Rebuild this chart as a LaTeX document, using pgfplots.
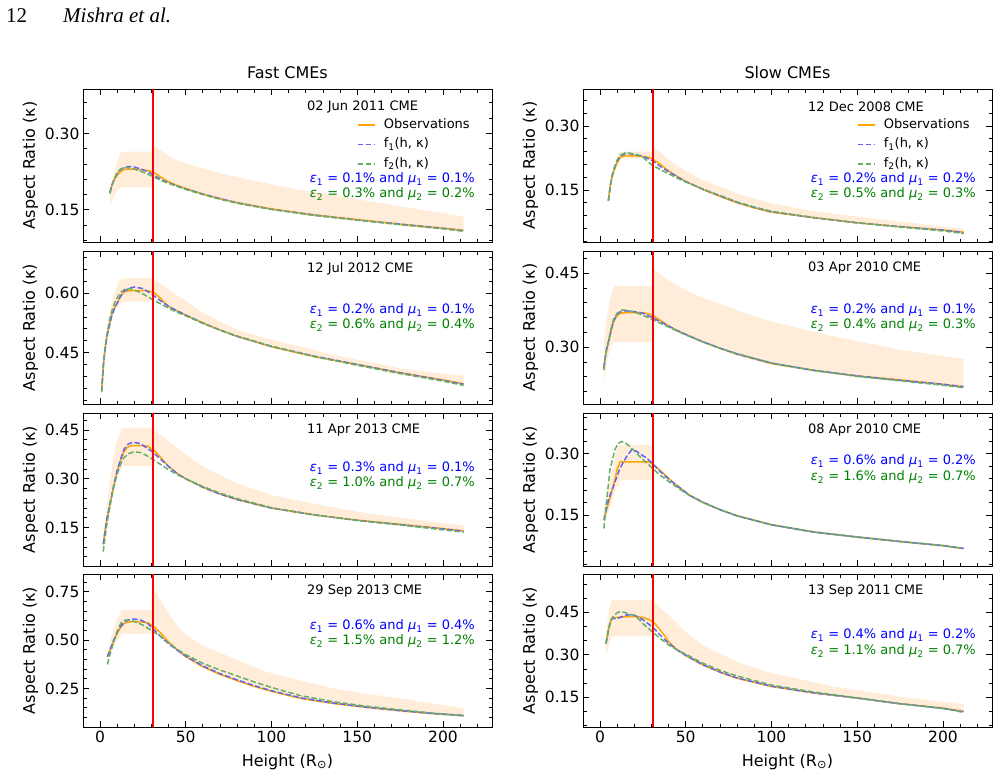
\documentclass[border=0pt]{standalone}
\usepackage{fontspec}
\setmainfont{DejaVu Sans}
\newfontfamily\tnr{Liberation Serif}
\usepackage{pgfplots}
\pgfplotsset{compat=1.18}
\definecolor{obscol}{RGB}{255,165,0}
\definecolor{fonecol}{RGB}{100,100,245}
\definecolor{ftwocol}{RGB}{102,176,102}
\definecolor{bandcol}{RGB}{255,237,217}
\definecolor{txtgreen}{RGB}{0,128,0}
\definecolor{pureRed}{RGB}{255,0,0}
\pgfplotsset{
 cme/.style={
  scale only axis, width=409pt, height=153pt, anchor=north west,
  xmin=-9.9, xmax=228.6,
  xtick={0,50,100,150,200},
  minor xtick={-10,10,20,30,40,60,70,80,90,110,120,130,140,160,170,180,190,210,220},
  tick align=inside,
  major tick length=6pt, minor tick length=3.5pt,
  every tick/.style={black, line width=0.8pt},
  axis line style={line width=0.9pt},
  tick label style={font=\fontsize{15.5}{16}\selectfont},
  y tick label style={/pgf/number format/fixed, /pgf/number format/fixed zerofill, /pgf/number format/precision=2},
  /pgf/number format/assume math mode=true,
  ylabel={Aspect Ratio (κ)},
  every axis y label/.style={at={(axis description cs:-0.1174,0.5)}, anchor=base, rotate=90, font=\fontsize{16}{18}\selectfont},
  every axis x label/.style={at={(axis description cs:0.5,-0.255)}, anchor=base, font=\fontsize{16}{18}\selectfont},
 },
 toprow/.style={xticklabels={}},
 obs/.style={obscol, line width=1.5pt},
 fone/.style={fonecol, line width=1.5pt, dash pattern=on 5.5pt off 2.4pt},
 ftwo/.style={ftwocol, line width=1.5pt, dash pattern=on 5.5pt off 2.4pt},
 band/.style={fill=bandcol, draw=none, forget plot},
 redline/.style={pureRed, line width=1.8pt, forget plot},
 leg/.style={legend style={at={(axis description cs:0.67,0.807)}, anchor=north west, draw=none, fill=none,
   font=\fontsize{13}{13}\selectfont, inner sep=0pt, row sep=7pt,
   nodes={inner sep=0pt, text height=9.5pt, text depth=3pt},
   /tikz/every odd column/.style={column sep=8pt}}, legend cell align=left},
}
\newcommand{\epsline}[3]{\textit{ε}\textsubscript{#1} = #2\% and \textit{μ}\textsubscript{#1} = #3\%}
\begin{document}
\begin{tikzpicture}
\useasboundingbox (0pt,0pt) rectangle (1003pt,-776pt);
\node[anchor=base west, inner sep=0pt] at (6pt,-23pt) {\tnr\fontsize{21}{21}\selectfont 12};
\node[anchor=base west, inner sep=0pt] at (63pt,-23pt) {\tnr\itshape\fontsize{21}{21}\selectfont Mishra et al.};
\node[anchor=base, inner sep=0pt] at (287.5pt,-78pt) {\fontsize{16}{18}\selectfont Fast CMEs};
\node[anchor=base, inner sep=0pt] at (787.5pt,-78pt) {\fontsize{16}{18}\selectfont Slow CMEs};

% ---------- Panel A: 02 Jun 2011 ----------
\begin{axis}[cme, toprow, leg, at={(83pt,-89pt)}, ymin=0.087, ymax=0.387, ytick={0.15,0.30},
  minor ytick={0.09,0.12,0.18,0.21,0.24,0.27,0.33,0.36}]
\addplot[band] coordinates {(5.8,0.190)(8,0.222)(10,0.245)(12,0.262)(13,0.264)(30,0.264)(30.5,0.276)(35,0.268)(39,0.258)(45,0.247)(50,0.241)(58,0.233)(70,0.222)(80,0.214)(97,0.202)(115,0.190)(136,0.179)(155,0.168)(175,0.157)(195,0.146)(212,0.137)
 (212,0.107)(200,0.111)(175,0.119)(150,0.128)(125,0.137)(100,0.149)(80,0.161)(60,0.178)(50,0.189)(40,0.202)(35,0.212)(30.5,0.222)(30,0.194)(12,0.194)(10,0.188)(8,0.176)(5.8,0.160)} -- cycle;
\addplot[obs] coordinates {(5.8,0.186)(7,0.199)(8,0.207)(10,0.218)(12,0.225)(14,0.229)(16,0.230)(20,0.230)(25,0.228)(28,0.227)(30,0.225)(32,0.222)(34,0.218)(36,0.213)(38,0.209)(40,0.205)(45,0.198)(50,0.192)(60,0.181)(70,0.172)(80,0.164)(100,0.152)(125,0.140)(150,0.131)(175,0.122)(200,0.114)(212,0.110)};
\addlegendentry{Observations}
\addplot[fone] coordinates {(5.8,0.184)(7,0.198)(8,0.207)(10,0.221)(12,0.229)(14,0.233)(17,0.235)(20,0.234)(25,0.229)(30,0.221)(33,0.215)(36,0.209)(40,0.203)(45,0.197)(50,0.191)(60,0.181)(70,0.172)(80,0.164)(100,0.151)(125,0.140)(150,0.130)(175,0.122)(200,0.114)(212,0.109)};
\addlegendentry{f\textsubscript{1}(h, κ)}
\addplot[ftwo] coordinates {(5.8,0.182)(7,0.198)(8,0.208)(10,0.223)(12,0.230)(14,0.233)(16,0.233)(20,0.230)(25,0.224)(30,0.217)(33,0.212)(36,0.207)(40,0.202)(45,0.196)(50,0.190)(60,0.180)(70,0.171)(80,0.163)(100,0.151)(125,0.139)(150,0.130)(175,0.121)(200,0.113)(212,0.108)};
\addlegendentry{f\textsubscript{2}(h, κ)}
\addplot[redline] coordinates {(31,0.087)(31,0.387)};
\end{axis}

% ---------- Panel B: 12 Jul 2012 ----------
\begin{axis}[cme, toprow, at={(83pt,-251pt)}, ymin=0.32, ymax=0.707, ytick={0.45,0.60},
  minor ytick={0.33,0.36,0.39,0.42,0.48,0.51,0.54,0.57,0.63,0.66,0.69}]
\addplot[band] coordinates {(1,0.37)(3,0.48)(5,0.54)(8,0.595)(11,0.628)(13,0.638)(30,0.638)(35,0.625)(40,0.61)(45,0.595)(50,0.582)(58,0.556)(70,0.528)(80,0.508)(97,0.486)(120,0.462)(136,0.444)(160,0.424)(175,0.41)(200,0.397)(212,0.391)
 (212,0.368)(200,0.378)(175,0.396)(150,0.417)(125,0.437)(100,0.462)(80,0.488)(60,0.522)(50,0.542)(40,0.564)(35,0.586)(30.5,0.601)(30,0.579)(13,0.579)(10,0.565)(7,0.54)(5,0.51)(3,0.45)(1,0.345)} -- cycle;
\addplot[obs] coordinates {(1,0.356)(2,0.42)(3,0.46)(4,0.49)(5.5,0.52)(7,0.548)(8.5,0.563)(10,0.575)(12,0.592)(14,0.603)(16,0.606)(20,0.607)(25,0.607)(28,0.606)(30,0.604)(32,0.600)(35,0.589)(38,0.575)(40,0.567)(45,0.555)(50,0.545)(60,0.525)(70,0.507)(80,0.491)(100,0.465)(125,0.440)(150,0.420)(175,0.399)(200,0.381)(212,0.371)};
\addplot[fone] coordinates {(1,0.352)(2,0.418)(3,0.46)(4,0.488)(5.5,0.518)(7,0.545)(8.5,0.562)(10,0.575)(12,0.593)(14,0.605)(17,0.613)(20,0.616)(25,0.612)(30,0.599)(35,0.582)(40,0.567)(45,0.556)(50,0.545)(60,0.525)(70,0.507)(80,0.491)(100,0.466)(125,0.441)(150,0.420)(175,0.399)(200,0.380)(212,0.370)};
\addplot[ftwo] coordinates {(1,0.350)(2,0.42)(3,0.465)(4,0.495)(5.5,0.53)(7,0.556)(8.5,0.575)(10,0.588)(12,0.602)(15,0.612)(18,0.611)(22,0.605)(26,0.596)(30,0.586)(35,0.574)(40,0.562)(45,0.552)(50,0.543)(60,0.524)(70,0.507)(80,0.492)(100,0.466)(125,0.440)(150,0.418)(175,0.397)(200,0.378)(212,0.367)};
\addplot[redline] coordinates {(31,0.32)(31,0.707)};
\end{axis}

% ---------- Panel C: 11 Apr 2013 ----------
\begin{axis}[cme, toprow, at={(83pt,-413pt)}, ymin=0.032, ymax=0.502, ytick={0.15,0.30,0.45},
  minor ytick={0.06,0.09,0.12,0.18,0.21,0.24,0.27,0.33,0.36,0.39,0.42,0.48}]
\addplot[band] coordinates {(1.9,0.11)(4,0.22)(6,0.30)(8,0.37)(10,0.42)(13,0.457)(30,0.457)(35,0.437)(40,0.414)(50,0.375)(60,0.337)(80,0.285)(100,0.25)(125,0.223)(150,0.199)(175,0.18)(212,0.156)
 (212,0.137)(200,0.144)(175,0.157)(150,0.170)(125,0.186)(100,0.207)(80,0.233)(60,0.271)(50,0.297)(40,0.335)(35,0.365)(30.5,0.389)(30,0.339)(13,0.339)(10,0.30)(8,0.26)(5,0.18)(1.9,0.09)} -- cycle;
\addplot[obs] coordinates {(1.9,0.099)(3,0.14)(4,0.175)(5.8,0.22)(8,0.275)(10,0.322)(12,0.355)(14,0.383)(16,0.397)(18,0.401)(20,0.402)(25,0.402)(28,0.40)(30,0.392)(32,0.385)(35,0.368)(38,0.35)(40,0.338)(45,0.316)(50,0.30)(60,0.274)(70,0.253)(80,0.236)(100,0.210)(125,0.189)(150,0.173)(175,0.160)(200,0.147)(212,0.140)};
\addplot[fone] coordinates {(1.9,0.099)(3,0.14)(4,0.176)(5.8,0.223)(8,0.28)(10,0.325)(12,0.36)(14,0.39)(16,0.405)(19,0.412)(22,0.41)(25,0.403)(30,0.385)(35,0.362)(40,0.338)(45,0.316)(50,0.30)(60,0.274)(70,0.253)(80,0.236)(100,0.210)(125,0.189)(150,0.172)(175,0.159)(200,0.146)(212,0.139)};
\addplot[ftwo] coordinates {(1.9,0.076)(3,0.12)(4,0.16)(5.8,0.215)(8,0.275)(10,0.315)(12,0.345)(14,0.365)(17,0.378)(20,0.383)(24,0.38)(27,0.372)(30,0.362)(35,0.345)(40,0.328)(45,0.313)(50,0.30)(60,0.276)(70,0.256)(80,0.239)(100,0.211)(125,0.189)(150,0.172)(175,0.158)(200,0.143)(212,0.136)};
\addplot[redline] coordinates {(31,0.032)(31,0.502)};
\end{axis}

% ---------- Panel D: 29 Sep 2013 ----------
\begin{axis}[cme, at={(83pt,-574pt)}, ymin=0.05, ymax=0.842, ytick={0.25,0.50,0.75},
  minor ytick={0.10,0.15,0.20,0.30,0.35,0.40,0.45,0.55,0.60,0.65,0.70,0.80},
  xlabel={Height (R\textsubscript{⊙})}]
\addplot[band] coordinates {(4.3,0.43)(6,0.50)(8,0.56)(10,0.61)(12,0.645)(13,0.655)(30,0.655)(30.5,0.78)(35,0.71)(40,0.635)(45,0.575)(50,0.53)(60,0.47)(78,0.405)(97,0.336)(117,0.29)(136,0.25)(155,0.222)(175,0.198)(194,0.172)(212,0.147)
 (212,0.104)(194,0.114)(175,0.129)(155,0.147)(136,0.167)(117,0.193)(100,0.23)(80,0.285)(60,0.357)(50,0.409)(40,0.485)(35,0.535)(30.5,0.573)(30,0.534)(13,0.534)(10,0.50)(8,0.47)(6,0.43)(4.3,0.40)} -- cycle;
\addplot[obs] coordinates {(4.3,0.414)(6,0.45)(8,0.495)(10,0.534)(12,0.565)(14,0.585)(16,0.593)(20,0.596)(25,0.593)(28,0.588)(30,0.578)(32,0.565)(35,0.54)(38,0.51)(40,0.49)(45,0.45)(50,0.414)(60,0.362)(70,0.322)(80,0.29)(90,0.26)(100,0.235)(117,0.198)(136,0.172)(155,0.152)(175,0.134)(194,0.119)(212,0.109)};
\addplot[fone] coordinates {(4.3,0.414)(6,0.452)(8,0.5)(10,0.54)(12,0.572)(15,0.598)(18,0.608)(20,0.609)(24,0.603)(28,0.585)(30,0.566)(32,0.55)(35,0.522)(38,0.497)(40,0.482)(45,0.448)(50,0.417)(60,0.366)(70,0.326)(80,0.294)(90,0.264)(100,0.238)(117,0.201)(136,0.174)(155,0.153)(175,0.135)(194,0.12)(212,0.11)};
\addplot[ftwo] coordinates {(4.3,0.374)(6,0.43)(8,0.49)(10,0.545)(12,0.585)(14,0.602)(16,0.604)(20,0.596)(25,0.578)(30,0.55)(35,0.522)(40,0.485)(45,0.452)(50,0.425)(60,0.379)(70,0.345)(80,0.314)(90,0.283)(100,0.255)(117,0.212)(136,0.181)(155,0.158)(175,0.139)(194,0.122)(212,0.108)};
\addplot[redline] coordinates {(31,0.05)(31,0.842)};
\end{axis}

% ---------- Panel E: 12 Dec 2008 ----------
\begin{axis}[cme, toprow, leg, at={(583pt,-89pt)}, ymin=0.028, ymax=0.387, ytick={0.15,0.30},
  minor ytick={0.03,0.06,0.09,0.12,0.18,0.21,0.24,0.27,0.33,0.36}]
\addplot[band] coordinates {(4.9,0.13)(6,0.17)(8,0.205)(10,0.228)(11,0.24)(30,0.24)(30.5,0.255)(35,0.24)(40,0.22)(50,0.195)(60,0.173)(80,0.142)(100,0.119)(125,0.10)(150,0.088)(175,0.076)(212,0.059)
 (212,0.049)(200,0.054)(175,0.062)(150,0.071)(125,0.083)(100,0.096)(80,0.118)(60,0.149)(50,0.168)(40,0.193)(35,0.209)(30.5,0.221)(30,0.224)(12,0.224)(9,0.20)(7,0.175)(4.9,0.12)} -- cycle;
\addplot[obs] coordinates {(4.9,0.125)(6,0.16)(7,0.18)(8,0.193)(10,0.214)(12,0.227)(14,0.23)(20,0.23)(25,0.229)(28,0.227)(30,0.224)(32,0.219)(35,0.211)(38,0.201)(40,0.195)(45,0.182)(50,0.17)(60,0.151)(70,0.135)(80,0.120)(90,0.108)(100,0.098)(125,0.085)(150,0.073)(175,0.064)(200,0.056)(212,0.051)};
\addlegendentry{Observations}
\addplot[fone] coordinates {(4.9,0.125)(6,0.16)(7,0.182)(8,0.197)(10,0.218)(12,0.23)(15,0.236)(18,0.235)(22,0.232)(25,0.229)(30,0.22)(33,0.212)(36,0.203)(40,0.193)(45,0.181)(50,0.170)(60,0.152)(70,0.136)(80,0.121)(90,0.109)(100,0.099)(125,0.085)(150,0.073)(175,0.064)(200,0.056)(212,0.050)};
\addlegendentry{f\textsubscript{1}(h, κ)}
\addplot[ftwo] coordinates {(4.9,0.125)(6,0.16)(7,0.183)(8,0.198)(10,0.22)(12,0.232)(15,0.2375)(18,0.236)(22,0.232)(25,0.227)(28,0.217)(30,0.209)(33,0.203)(36,0.196)(40,0.188)(45,0.178)(50,0.169)(60,0.152)(70,0.137)(80,0.122)(90,0.110)(100,0.100)(125,0.085)(150,0.073)(175,0.063)(200,0.054)(212,0.048)};
\addlegendentry{f\textsubscript{2}(h, κ)}
\addplot[redline] coordinates {(31,0.028)(31,0.387)};
\end{axis}

% ---------- Panel F: 03 Apr 2010 ----------
\begin{axis}[cme, toprow, at={(583pt,-251pt)}, ymin=0.185, ymax=0.495, ytick={0.30,0.45},
  minor ytick={0.21,0.24,0.27,0.33,0.36,0.39,0.42,0.48}]
\addplot[band] coordinates {(2.3,0.31)(4,0.36)(6,0.40)(8,0.42)(9,0.424)(30,0.424)(30.5,0.46)(35,0.448)(40,0.436)(50,0.416)(58,0.403)(80,0.375)(97,0.355)(136,0.322)(175,0.295)(212,0.276)
 (212,0.217)(200,0.222)(175,0.231)(150,0.239)(125,0.25)(100,0.264)(80,0.283)(60,0.308)(50,0.323)(40,0.34)(35,0.352)(30.5,0.363)(30,0.311)(9,0.311)(8,0.311)(6,0.30)(4,0.27)(2.3,0.227)} -- cycle;
\addplot[obs] coordinates {(2.3,0.261)(3,0.28)(4,0.298)(5,0.31)(6,0.325)(7,0.34)(8,0.352)(10,0.364)(12,0.369)(15,0.37)(20,0.37)(25,0.37)(28,0.368)(30,0.366)(32,0.362)(35,0.355)(38,0.348)(40,0.343)(45,0.334)(50,0.326)(60,0.311)(70,0.298)(80,0.286)(100,0.267)(125,0.253)(150,0.242)(175,0.234)(200,0.225)(212,0.22)};
\addplot[fone] coordinates {(2.3,0.258)(3,0.278)(4,0.298)(5,0.312)(6,0.328)(7,0.342)(8,0.354)(10,0.367)(12,0.372)(15,0.374)(20,0.372)(25,0.369)(30,0.361)(35,0.352)(40,0.343)(45,0.334)(50,0.326)(60,0.311)(70,0.298)(80,0.286)(100,0.268)(125,0.253)(150,0.242)(175,0.233)(200,0.225)(212,0.22)};
\addplot[ftwo] coordinates {(2.3,0.254)(3,0.276)(4,0.297)(5,0.313)(6,0.33)(7,0.345)(8,0.357)(10,0.369)(13,0.3756)(16,0.375)(20,0.371)(25,0.365)(30,0.357)(35,0.349)(40,0.341)(45,0.333)(50,0.325)(60,0.311)(70,0.298)(80,0.287)(100,0.268)(125,0.253)(150,0.241)(175,0.232)(200,0.223)(212,0.218)};
\addplot[redline] coordinates {(31,0.185)(31,0.495)};
\end{axis}

% ---------- Panel G: 08 Apr 2010 ----------
\begin{axis}[cme, toprow, at={(583pt,-413pt)}, ymin=0.025, ymax=0.40, ytick={0.15,0.30},
  minor ytick={0.03,0.06,0.09,0.12,0.18,0.21,0.24,0.27,0.33,0.36,0.39}]
\addplot[band] coordinates {(2.3,0.166)(5,0.22)(8,0.28)(10.7,0.322)(30,0.322)(30.5,0.28)(35,0.263)(41,0.239)(45,0.225)(52,0.202)(60,0.184)(70,0.166)(80,0.151)(100,0.129)(125,0.111)(150,0.099)(175,0.088)(200,0.078)(212,0.071)
 (212,0.066)(200,0.073)(175,0.083)(150,0.094)(125,0.106)(100,0.124)(80,0.146)(70,0.161)(60,0.179)(52,0.197)(45,0.22)(41,0.234)(35,0.258)(30.5,0.274)(30,0.236)(12.6,0.236)(9,0.21)(6,0.17)(2.3,0.125)} -- cycle;
\addplot[obs] coordinates {(2.3,0.142)(3,0.150)(4,0.165)(5.8,0.191)(8.7,0.236)(10,0.262)(11.7,0.28)(20,0.28)(28,0.28)(30,0.277)(32,0.27)(35,0.26)(38,0.248)(41,0.236)(45,0.222)(52,0.199)(60,0.181)(70,0.163)(80,0.148)(100,0.126)(125,0.108)(150,0.096)(175,0.085)(200,0.075)(212,0.068)};
\addplot[fone] coordinates {(2.3,0.138)(3,0.15)(4.9,0.187)(7.8,0.22)(11.7,0.265)(15.5,0.293)(18.5,0.31)(21,0.307)(23.3,0.30)(27,0.29)(30,0.279)(35,0.257)(40.8,0.235)(45,0.222)(52,0.199)(60,0.181)(70,0.163)(80,0.148)(100,0.126)(125,0.108)(150,0.096)(175,0.085)(200,0.075)(212,0.068)};
\addplot[ftwo] coordinates {(2.3,0.117)(3,0.15)(3.9,0.187)(5.8,0.261)(8.7,0.31)(10.5,0.325)(12.6,0.330)(15,0.326)(17.5,0.318)(23.3,0.293)(30,0.267)(35,0.248)(40.8,0.23)(46.6,0.213)(52.5,0.197)(60,0.181)(70,0.163)(80,0.148)(100,0.126)(125,0.108)(150,0.096)(175,0.085)(200,0.075)(212,0.068)};
\addplot[redline] coordinates {(31,0.025)(31,0.40)};
\end{axis}

% ---------- Panel H: 13 Sep 2011 ----------
\begin{axis}[cme, at={(583pt,-574pt)}, ymin=0.045, ymax=0.585, ytick={0.15,0.30,0.45},
  minor ytick={0.05,0.10,0.20,0.25,0.35,0.40,0.50,0.55},
  xlabel={Height (R\textsubscript{⊙})}]
\addplot[band] coordinates {(3.5,0.37)(5,0.45)(6.8,0.4935)(30,0.4935)(30.5,0.50)(35,0.465)(40,0.44)(50,0.38)(60,0.333)(80,0.275)(97,0.24)(136,0.188)(175,0.152)(212,0.125)
 (212,0.097)(200,0.109)(175,0.124)(150,0.144)(125,0.162)(100,0.185)(80,0.214)(60,0.261)(50,0.294)(40,0.343)(35,0.385)(30.5,0.416)(30,0.366)(6.8,0.366)(5,0.33)(3.5,0.294)} -- cycle;
\addplot[obs] coordinates {(3.5,0.341)(4.5,0.375)(5.5,0.405)(6.8,0.429)(8,0.431)(10,0.432)(15,0.434)(20,0.435)(25,0.432)(28,0.426)(30,0.419)(32,0.41)(35,0.388)(38,0.365)(40,0.346)(45,0.318)(50,0.297)(60,0.264)(70,0.238)(80,0.217)(100,0.188)(125,0.165)(150,0.147)(175,0.127)(200,0.112)(212,0.10)};
\addplot[fone] coordinates {(3.5,0.34)(4.5,0.373)(5.5,0.402)(6.8,0.427)(8,0.428)(9.5,0.427)(12,0.432)(15,0.44)(18,0.441)(20,0.44)(25,0.424)(28,0.41)(30,0.40)(32,0.39)(35,0.37)(38,0.352)(40,0.341)(45,0.317)(50,0.298)(60,0.265)(70,0.239)(80,0.218)(100,0.189)(125,0.165)(150,0.147)(175,0.127)(200,0.111)(212,0.099)};
\addplot[ftwo] coordinates {(3.5,0.338)(4.5,0.372)(5.5,0.40)(6.8,0.426)(8,0.438)(10,0.448)(11.7,0.452)(14,0.45)(18,0.442)(20,0.438)(23,0.424)(25,0.41)(30,0.384)(35,0.358)(40,0.335)(45,0.317)(50,0.302)(60,0.27)(70,0.245)(80,0.225)(100,0.193)(125,0.168)(150,0.148)(175,0.127)(200,0.11)(212,0.097)};
\addplot[redline] coordinates {(31,0.045)(31,0.585)};
\end{axis}

% ---------- annotations ----------
\begin{scope}[every node/.style={inner sep=0pt, font=\fontsize{13}{15}\selectfont}]
\node[anchor=west] at (307pt,-106.5pt) {02 Jun 2011 CME};
\node[anchor=west] at (307pt,-268.5pt) {12 Jul 2012 CME};
\node[anchor=west] at (307pt,-430.5pt) {11 Apr 2013 CME};
\node[anchor=west] at (307pt,-591.5pt) {29 Sep 2013 CME};
\node[anchor=west] at (808pt,-106.5pt) {12 Dec 2008 CME};
\node[anchor=west] at (808pt,-268.5pt) {03 Apr 2010 CME};
\node[anchor=west] at (808pt,-430.5pt) {08 Apr 2010 CME};
\node[anchor=west] at (808pt,-591.5pt) {13 Sep 2011 CME};
\node[anchor=east, text=blue] at (475pt,-179pt) {\epsline{1}{0.1}{0.1}};
\node[anchor=east, text=txtgreen] at (475pt,-194pt) {\epsline{2}{0.3}{0.2}};
\node[anchor=east, text=blue] at (475pt,-310pt) {\epsline{1}{0.2}{0.1}};
\node[anchor=east, text=txtgreen] at (475pt,-325pt) {\epsline{2}{0.6}{0.4}};
\node[anchor=east, text=blue] at (475pt,-468pt) {\epsline{1}{0.3}{0.1}};
\node[anchor=east, text=txtgreen] at (475pt,-483pt) {\epsline{2}{1.0}{0.7}};
\node[anchor=east, text=blue] at (475pt,-626pt) {\epsline{1}{0.6}{0.4}};
\node[anchor=east, text=txtgreen] at (475pt,-641pt) {\epsline{2}{1.5}{1.2}};
\node[anchor=east, text=blue] at (976pt,-179pt) {\epsline{1}{0.2}{0.2}};
\node[anchor=east, text=txtgreen] at (976pt,-194pt) {\epsline{2}{0.5}{0.3}};
\node[anchor=east, text=blue] at (976pt,-310pt) {\epsline{1}{0.2}{0.1}};
\node[anchor=east, text=txtgreen] at (976pt,-325pt) {\epsline{2}{0.4}{0.3}};
\node[anchor=east, text=blue] at (976pt,-461pt) {\epsline{1}{0.6}{0.2}};
\node[anchor=east, text=txtgreen] at (976pt,-477pt) {\epsline{2}{1.6}{0.7}};
\node[anchor=east, text=blue] at (976pt,-635pt) {\epsline{1}{0.4}{0.2}};
\node[anchor=east, text=txtgreen] at (976pt,-651pt) {\epsline{2}{1.1}{0.7}};
\end{scope}
\end{tikzpicture}
\end{document}
